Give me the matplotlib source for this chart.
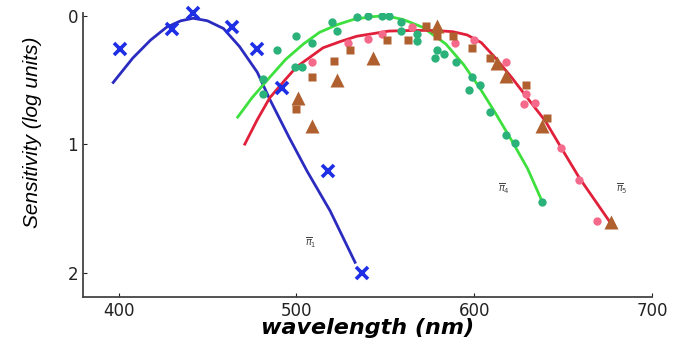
import matplotlib
matplotlib.use('Agg')
import matplotlib.pyplot as plt
import numpy as np

# ==========================================================================
#  Dati (lunghezza d'onda [nm], sensibilita' [log])
# pi1 - blu
blu_x = [401, 430, 442, 464, 478, 492, 518, 537]
blu_y = [0.26, 0.10, -0.02, 0.09, 0.26, 0.56, 1.21, 2.00]
blu_fit_x = [397, 408, 418, 427, 435, 442, 450, 459, 468, 478, 485, 496, 506, 519, 533]
blu_fit_y = [0.52, 0.33, 0.19, 0.09, 0.04, 0.02, 0.04, 0.10, 0.24, 0.44, 0.65, 0.95, 1.21, 1.52, 1.92]

# pi4 - verde
verde_x = [481, 481, 489, 499, 500, 503, 509, 520, 523, 534, 540, 548, 552,
           559, 559, 568, 568, 578, 579, 583, 590, 597, 599, 603, 609, 618, 623, 638]
verde_y = [0.49, 0.61, 0.27, 0.40, 0.16, 0.40, 0.21, 0.05, 0.12, 0.01, 0.00, 0.00, 0.00,
           0.05, 0.12, 0.14, 0.20, 0.33, 0.27, 0.30, 0.36, 0.58, 0.48, 0.54, 0.75, 0.93, 0.99, 1.45]
verde_fit_x = [467, 475, 485, 494, 504, 513, 523, 532, 541, 550, 560, 571, 584, 594, 603, 612, 621, 630, 638]
verde_fit_y = [0.79, 0.64, 0.48, 0.34, 0.22, 0.13, 0.07, 0.03, 0.01, 0.00, 0.03, 0.09, 0.22, 0.38, 0.56, 0.76, 0.97, 1.19, 1.44]

# pi5 - rosso/marrone
rosa_x = [509, 529, 540, 548, 565, 589, 600, 618, 628, 629, 634, 649, 659, 669]
rosa_y = [0.36, 0.21, 0.18, 0.14, 0.09, 0.21, 0.19, 0.36, 0.69, 0.61, 0.68, 1.03, 1.28, 1.60]
quad_x = [500, 509, 521, 530, 551, 563, 573, 579, 588, 599, 609, 629, 641]
quad_y = [0.73, 0.48, 0.35, 0.27, 0.19, 0.19, 0.08, 0.16, 0.16, 0.25, 0.33, 0.54, 0.80]
tri_x = [501, 509, 523, 543, 579, 613, 618, 638, 677]
tri_y = [0.64, 0.86, 0.50, 0.33, 0.08, 0.37, 0.47, 0.86, 1.61]
rosso_fit_x = [471, 478, 485, 493, 500, 508, 515, 525, 534, 543, 552, 565, 578, 588, 596, 604,
               612, 621, 631, 640, 649, 659, 668, 676]
rosso_fit_y = [1.00, 0.81, 0.64, 0.51, 0.40, 0.32, 0.25, 0.20, 0.16, 0.14, 0.12, 0.115, 0.115,
               0.125, 0.15, 0.21, 0.33, 0.48, 0.66, 0.82, 1.03, 1.26, 1.44, 1.60]

etichette = [(r'$\overline{\pi}_1$', 508, 1.77), (r'$\overline{\pi}_4$', 617, 1.35),
             (r'$\overline{\pi}_5$', 683, 1.35)]

# ==========================================================================
fig = plt.figure(figsize=(6.78, 3.54), dpi=100)
ax = fig.add_axes([0.1224, 0.161, 0.8393, 0.802])

ax.plot(blu_fit_x, blu_fit_y, color='#2b2bc0', lw=2)
ax.plot(verde_fit_x, verde_fit_y, color='#3ee03e', lw=2)
ax.plot(rosso_fit_x, rosso_fit_y, color='#e0203a', lw=2)

ax.plot(verde_x, verde_y, 'o', color='#2bb27a', ms=6, mec='none')
ax.plot(rosa_x, rosa_y, 'o', color='#f56a8a', ms=6, mec='none')
ax.plot(quad_x, quad_y, 's', color='#b0602e', ms=6, mec='none')
ax.plot(tri_x, tri_y, '^', color='#b0602e', ms=10, mec='none')
ax.plot(blu_x, blu_y, 'x', color='#1f2fe6', ms=9, mew=2.6, clip_on=False)

for txt, xx, yy in etichette:
    ax.text(xx, yy, txt, fontsize=7, color='#444444', ha='center', va='center')

ax.set_xlim(380, 700)
ax.set_ylim(2.19, -0.02)
ax.set_xticks([400, 500, 600, 700])
ax.set_yticks([0, 1, 2])
ax.tick_params(direction='in', length=3, labelsize=12, colors='#222222')
for s in ['top', 'right']:
    ax.spines[s].set_visible(False)
for s in ['left', 'bottom']:
    ax.spines[s].set_color('#444444')
    ax.spines[s].set_linewidth(1.3)

ax.set_xlabel('wavelength (nm)', fontsize=16, style='italic', fontweight='bold')
ax.xaxis.set_label_coords(0.5, -0.075)
ax.set_ylabel('Sensitivity (log units)', fontsize=15, style='italic',
              family='Liberation Sans')
ax.yaxis.set_label_coords(-0.072, 0.58)

fig.savefig('out.png', dpi=100)
